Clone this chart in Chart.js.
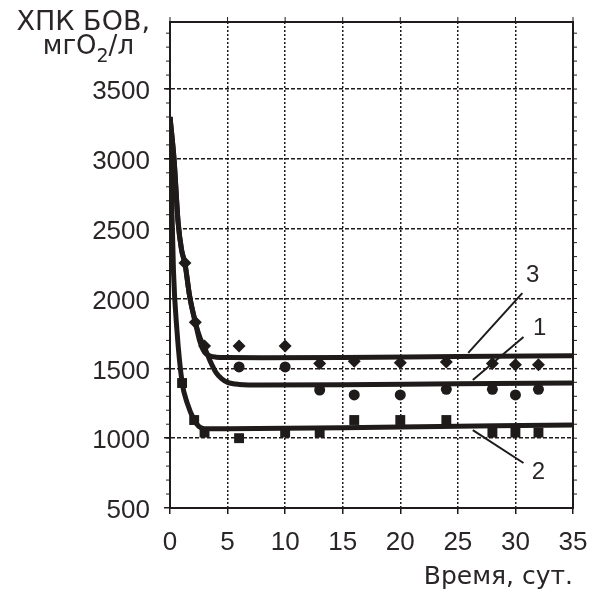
<!DOCTYPE html>
<html>
<head>
<meta charset="UTF-8">
<title>ХПК БОВ</title>
<script src="https://cdn.jsdelivr.net/npm/chart.js@4.4.1/dist/chart.umd.min.js"></script>
<style>
  body { margin: 0; background: #fff; }
  #box { width: 591px; height: 593px; }
</style>
</head>
<body>
<div id="box"><canvas id="wykres"></canvas></div>
<script>
// оси
const xTicks = [0, 5, 10, 15, 20, 25, 30, 35];
const yTicks = [500, 1000, 1500, 2000, 2500, 3000, 3500];

// расчетные кривые (3, 1, 2)
const curve3X = [0, 0.35, 0.7, 1, 1.3, 1.7, 2.2, 2.6, 3, 3.5, 4, 5, 8, 15, 25, 35];
const curve3Y = [3300, 3000, 2550, 2350, 2250, 2020, 1830, 1690, 1615, 1588, 1580, 1577, 1576, 1578, 1585, 1590];
const curve1X = [0, 0.35, 0.7, 1, 1.3, 1.7, 2.2, 2.6, 3, 3.5, 4, 4.5, 5, 6, 8, 15, 25, 35];
const curve1Y = [3300, 3000, 2550, 2350, 2250, 2020, 1830, 1720, 1650, 1550, 1470, 1425, 1400, 1385, 1380, 1382, 1390, 1395];
const curve2X = [0, 0.15, 0.3, 0.6, 1.05, 1.5, 2.1, 2.5, 3, 5, 15, 25, 35];
const curve2Y = [3300, 2700, 2200, 1775, 1400, 1250, 1130, 1085, 1068, 1068, 1075, 1085, 1095];

// экспериментальные точки
const pts3X = [1.3, 2.2, 3, 6, 10, 13, 16, 20, 24, 28, 30, 32];
const pts3Y = [2255, 1830, 1660, 1660, 1660, 1535, 1550, 1540, 1545, 1535, 1525, 1525];
const pts1X = [6, 10, 13, 16, 20, 24, 28, 30, 32];
const pts1Y = [1510, 1510, 1345, 1310, 1310, 1350, 1350, 1310, 1350];
const pts2X = [1.05, 2.1, 3, 6, 10, 13, 16, 20, 24, 28, 30, 32];
const pts2Y = [1395, 1130, 1040, 1000, 1040, 1040, 1130, 1130, 1130, 1040, 1040, 1040];

// номера кривых и выноски
const curveNames = ['3', '1', '2'];
const nameX = [31.5, 32.1, 32.0];
const nameY = [2168, 1789, 758];
const leadX1 = [25.9, 26.3, 26.3];
const leadY1 = [1611, 1417, 1058];
const leadX2 = [30.6, 30.7, 30.7];
const leadY2 = [2039, 1724, 822];

const ink = '#1f1b1b';
const txt = '#2a2626';
const toXY = (xs, ys) => xs.map((x, i) => ({x: x, y: ys[i]}));

function curve(xs, ys) {
    return {
        type: 'line',
        data: toXY(xs, ys),
        borderColor: ink,
        borderWidth: 5,
        pointRadius: 0,
        cubicInterpolationMode: 'monotone',
        fill: false
    };
}
function points(xs, ys, style, r) {
    return {
        type: 'scatter',
        data: toXY(xs, ys),
        pointStyle: style,
        pointRadius: r,
        pointBackgroundColor: ink,
        pointBorderColor: ink,
        pointBorderWidth: 0
    };
}

const extras = {
    id: 'extras',
    afterDraw(chart) {
        const ctx = chart.ctx;
        const a = chart.chartArea;
        const xs = chart.scales.x, ys = chart.scales.y;
        ctx.save();
        ctx.strokeStyle = ink;
        ctx.lineWidth = 2;
        ctx.strokeRect(a.left, a.top, a.right - a.left, a.bottom - a.top);

        // мелкие деления
        ctx.lineWidth = 1;
        for (let v = 600; v < ys.max; v += 100) {
            const y = ys.getPixelForValue(v);
            ctx.beginPath();
            ctx.moveTo(a.left - 4, y); ctx.lineTo(a.left, y);
            ctx.moveTo(a.right, y); ctx.lineTo(a.right + 4, y);
            ctx.stroke();
        }
        xTicks.forEach(v => {
            const x = xs.getPixelForValue(v);
            ctx.beginPath();
            ctx.moveTo(x, a.top - 5); ctx.lineTo(x, a.top);
            ctx.stroke();
        });

        // выноски
        ctx.lineWidth = 2;
        ctx.fillStyle = txt;
        ctx.font = '24px "Liberation Sans"';
        ctx.textAlign = 'center';
        ctx.textBaseline = 'middle';
        curveNames.forEach((n, i) => {
            ctx.beginPath();
            ctx.moveTo(xs.getPixelForValue(leadX1[i]), ys.getPixelForValue(leadY1[i]));
            ctx.lineTo(xs.getPixelForValue(leadX2[i]), ys.getPixelForValue(leadY2[i]));
            ctx.stroke();
            ctx.fillText(n, xs.getPixelForValue(nameX[i]), ys.getPixelForValue(nameY[i]));
        });

        // подпись оси Y
        ctx.textAlign = 'right';
        ctx.font = '27px "DejaVu Sans"';
        ctx.fillText('ХПК БОВ,', 150, 23);
        ctx.font = '26px "DejaVu Sans"';
        const tail = '/л';
        const sub = '2';
        let x = 134;
        ctx.fillText(tail, x, 47);
        x -= ctx.measureText(tail).width;
        ctx.font = '19px "DejaVu Sans"';
        ctx.fillText(sub, x, 57);
        x -= ctx.measureText(sub).width;
        ctx.font = '26px "DejaVu Sans"';
        ctx.fillText('мгО', x, 47);
        ctx.restore();
    }
};

new Chart(document.getElementById('wykres'), {
    data: {
        datasets: [
            curve(curve3X, curve3Y),
            curve(curve1X, curve1Y),
            curve(curve2X, curve2Y),
            points(pts3X, pts3Y, 'rectRot', 6.5),
            points(pts1X, pts1Y, 'circle', 5.5),
            points(pts2X, pts2Y, 'rect', 7)
        ]
    },
    options: {
        responsive: true,
        maintainAspectRatio: false,
        animation: false,
        layout: {padding: {top: 22, right: 18, left: 0, bottom: 0}},
        plugins: {legend: {display: false}, tooltip: {enabled: false}},
        scales: {
            x: {
                type: 'linear',
                min: 0, max: 35,
                afterBuildTicks: s => { s.ticks = xTicks.map(v => ({value: v})); },
                afterFit: s => { s.height = 85; s.paddingLeft = 0; s.paddingRight = 0; },
                grid: {color: ink, lineWidth: 1.5, tickLength: 6, tickColor: ink},
                border: {display: true, color: ink, width: 2, dash: [2, 2]},
                ticks: {color: txt, padding: 13, maxRotation: 0, callback: v => String(v),
                        font: {family: 'Liberation Sans', size: 26}},
                title: {display: true, text: 'Время, сут.', align: 'end', color: txt,
                        padding: {top: 0, bottom: 1}, font: {family: 'DejaVu Sans', size: 25}}
            },
            y: {
                type: 'linear',
                min: 500, max: 3980,
                afterBuildTicks: s => { s.ticks = yTicks.map(v => ({value: v})); },
                afterFit: s => { s.width = 170; s.paddingTop = 0; s.paddingBottom = 0; },
                grid: {color: ink, lineWidth: 1.5, tickLength: 6, tickColor: ink},
                border: {display: true, color: ink, width: 2, dash: [4, 2]},
                ticks: {color: txt, padding: 14, labelOffset: 3, callback: v => String(v),
                        font: {family: 'Liberation Sans', size: 26}}
            }
        }
    },
    plugins: [extras]
});
</script>
</body>
</html>
